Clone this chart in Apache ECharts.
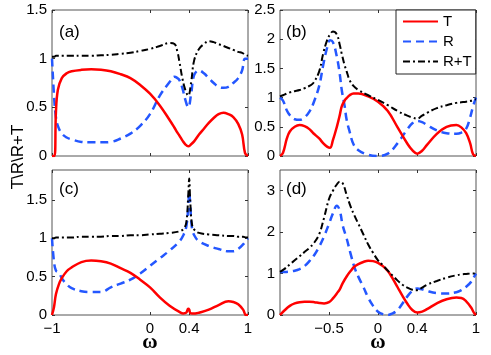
<!DOCTYPE html>
<html>
<head>
<meta charset="utf-8">
<script src="https://cdn.jsdelivr.net/npm/echarts@6/dist/echarts.min.js"></script>
<style>
  html, body { margin: 0; padding: 0; background: #fff; }
  #chart { width: 491px; height: 355px; }
</style>
</head>
<body>
<div id="chart"></div>
<script>
// panel (a)
const xA = [-1, -0.975, -0.96, -0.94, -0.9, -0.85, -0.8, -0.7, -0.6, -0.5, -0.4, -0.3, -0.2, -0.1, 0, 0.1, 0.2, 0.25, 0.28, 0.3, 0.33, 0.36, 0.39, 0.42, 0.45, 0.5, 0.55, 0.6, 0.65, 0.7, 0.75, 0.8, 0.85, 0.9, 0.94, 0.97, 1];
const tA = [0, 0, 0.45, 0.68, 0.8, 0.85, 0.87, 0.885, 0.89, 0.885, 0.87, 0.84, 0.8, 0.73, 0.64, 0.52, 0.37, 0.29, 0.24, 0.21, 0.16, 0.12, 0.1, 0.12, 0.15, 0.22, 0.28, 0.34, 0.39, 0.43, 0.445, 0.43, 0.4, 0.33, 0.22, 0.03, 0];
const rA = [1.0, 0.55, 0.4, 0.31, 0.23, 0.19, 0.17, 0.145, 0.14, 0.14, 0.145, 0.18, 0.23, 0.31, 0.43, 0.62, 0.76, 0.815, 0.8, 0.78, 0.7, 0.58, 0.5, 0.64, 0.83, 0.88, 0.85, 0.8, 0.75, 0.71, 0.7, 0.71, 0.75, 0.8, 0.88, 1.0, 1.0];
const sA = [1.02, 1.02, 1.03, 1.03, 1.03, 1.03, 1.03, 1.03, 1.03, 1.035, 1.04, 1.05, 1.06, 1.08, 1.1, 1.13, 1.16, 1.15, 1.07, 0.97, 0.8, 0.68, 0.62, 0.76, 0.98, 1.1, 1.15, 1.18, 1.17, 1.15, 1.13, 1.11, 1.09, 1.07, 1.06, 1.04, 1.03];

// panel (b)
const xB = [-1, -0.97, -0.93, -0.9, -0.85, -0.8, -0.75, -0.7, -0.66, -0.6, -0.56, -0.52, -0.49, -0.46, -0.42, -0.39, -0.37, -0.34, -0.32, -0.29, -0.25, -0.2, -0.1, 0, 0.1, 0.2, 0.3, 0.35, 0.4, 0.45, 0.5, 0.6, 0.7, 0.8, 0.85, 0.9, 0.94, 0.97, 1];
const tB = [0, 0.05, 0.3, 0.42, 0.5, 0.53, 0.51, 0.46, 0.39, 0.3, 0.22, 0.16, 0.14, 0.27, 0.5, 0.7, 0.85, 0.95, 0.99, 1.04, 1.07, 1.07, 1.02, 0.93, 0.77, 0.49, 0.21, 0.1, 0.04, 0.09, 0.19, 0.38, 0.5, 0.53, 0.49, 0.39, 0.22, 0.03, 0];
const rB = [1.0, 0.95, 0.78, 0.7, 0.63, 0.62, 0.66, 0.76, 0.9, 1.2, 1.55, 1.85, 1.98, 1.95, 1.7, 1.4, 1.13, 0.85, 0.62, 0.42, 0.2, 0.1, 0.02, 0.0, 0.04, 0.22, 0.46, 0.56, 0.6, 0.58, 0.53, 0.44, 0.39, 0.38, 0.4, 0.47, 0.66, 0.85, 1.0];
const sB = [1.02, 1.04, 1.07, 1.09, 1.11, 1.13, 1.16, 1.2, 1.25, 1.45, 1.75, 1.98, 2.08, 2.13, 2.08, 1.9, 1.75, 1.55, 1.45, 1.3, 1.2, 1.13, 1.04, 0.96, 0.87, 0.77, 0.69, 0.66, 0.64, 0.69, 0.74, 0.82, 0.87, 0.91, 0.92, 0.93, 0.94, 0.96, 0.97];

// panel (c)
const xC = [-1, -0.98, -0.96, -0.93, -0.9, -0.85, -0.8, -0.7, -0.6, -0.5, -0.4, -0.3, -0.2, -0.1, 0, 0.1, 0.2, 0.3, 0.34, 0.37, 0.39, 0.4, 0.41, 0.43, 0.46, 0.5, 0.6, 0.7, 0.8, 0.85, 0.9, 0.95, 0.98, 1];
const tC = [0, 0.1, 0.27, 0.4, 0.48, 0.57, 0.62, 0.69, 0.71, 0.7, 0.67, 0.61, 0.55, 0.46, 0.36, 0.23, 0.12, 0.04, 0.02, 0.03, 0.08, 0.07, 0.03, 0.02, 0.02, 0.03, 0.07, 0.13, 0.18, 0.17, 0.14, 0.07, 0.0, 0];
const rC = [1.0, 0.7, 0.58, 0.55, 0.48, 0.4, 0.35, 0.31, 0.3, 0.3, 0.36, 0.41, 0.46, 0.54, 0.64, 0.74, 0.84, 0.96, 1.04, 1.15, 1.4, 1.6, 1.45, 1.12, 1.02, 0.96, 0.9, 0.86, 0.83, 0.83, 0.86, 0.92, 0.97, 1.0];
const sC = [1.0, 1.0, 1.01, 1.01, 1.01, 1.01, 1.01, 1.02, 1.02, 1.02, 1.03, 1.03, 1.04, 1.04, 1.05, 1.06, 1.07, 1.09, 1.12, 1.2, 1.55, 1.78, 1.5, 1.17, 1.1, 1.07, 1.05, 1.04, 1.03, 1.03, 1.02, 1.02, 1.01, 1.01];

// panel (d)
const xD = [-1, -0.95, -0.9, -0.85, -0.8, -0.75, -0.7, -0.65, -0.6, -0.55, -0.5, -0.46, -0.42, -0.39, -0.36, -0.32, -0.28, -0.24, -0.2, -0.15, -0.1, -0.05, 0, 0.05, 0.1, 0.15, 0.2, 0.25, 0.3, 0.35, 0.4, 0.45, 0.5, 0.6, 0.7, 0.8, 0.85, 0.9, 0.95, 0.98, 1];
const tD = [0, 0.12, 0.22, 0.28, 0.31, 0.32, 0.32, 0.31, 0.29, 0.28, 0.31, 0.4, 0.52, 0.62, 0.77, 0.93, 1.06, 1.17, 1.23, 1.28, 1.31, 1.3, 1.26, 1.18, 1.06, 0.88, 0.67, 0.46, 0.27, 0.12, 0.06, 0.08, 0.14, 0.28, 0.38, 0.42, 0.41, 0.33, 0.18, 0.05, 0];
const rD = [1.04, 1.04, 1.05, 1.07, 1.11, 1.18, 1.3, 1.45, 1.65, 1.9, 2.2, 2.45, 2.64, 2.52, 2.16, 1.85, 1.48, 1.15, 0.92, 0.68, 0.42, 0.22, 0.08, 0.02, 0.0, 0.04, 0.12, 0.28, 0.45, 0.58, 0.64, 0.62, 0.58, 0.53, 0.52, 0.55, 0.6, 0.68, 0.8, 0.92, 1.0];
const sD = [1.04, 1.12, 1.22, 1.32, 1.42, 1.52, 1.62, 1.75, 1.95, 2.35, 2.8, 3.0, 3.15, 3.22, 3.18, 2.9, 2.62, 2.4, 2.2, 1.95, 1.7, 1.5, 1.32, 1.2, 1.07, 0.95, 0.83, 0.73, 0.66, 0.61, 0.6, 0.66, 0.73, 0.82, 0.9, 0.96, 0.98, 0.99, 1.0, 1.0, 1.0];

// ticks
const xTicksAC = [-1, 0, 0.4, 1];
const xTicksBD = [-0.5, 0, 0.4, 1];
const yTicksA = [0, 0.5, 1, 1.5];
const yTicksB = [0, 0.5, 1, 1.5, 2, 2.5];
const yTicksC = [0, 0.5, 1, 1.5];
const yTicksD = [0, 1, 2, 3];
const yMax = [1.5, 2.5, 1.89, 3.5];

const grids = [
  { left: 52, top: 10, width: 196, height: 146 },
  { left: 280, top: 10, width: 196, height: 146 },
  { left: 52, top: 170, width: 196, height: 145 },
  { left: 280, top: 170, width: 196, height: 145 }
];

const fmt = v => String(v).replace('-', '\u2212');
const FONT = 'Liberation Sans';

function xAxes(i, ticks, showLabels) {
  const base = {
    gridIndex: i, type: 'value', min: -1, max: 1,
    axisLine: { show: false, onZero: false }, splitLine: { show: false },
    axisTick: { inside: true, length: 3, customValues: ticks, lineStyle: { color: '#333' } }
  };
  return [
    Object.assign({}, base, {
      position: 'bottom',
      axisLabel: { show: showLabels, customValues: ticks, formatter: fmt, fontSize: 15, color: '#000',
        fontFamily: FONT, margin: 6, showMinLabel: true, showMaxLabel: true }
    }),
    Object.assign({}, base, { position: 'top', axisLabel: { show: false } })
  ];
}

function yAxes(i, ticks, max) {
  const base = {
    gridIndex: i, type: 'value', min: 0, max: max,
    axisLine: { show: false, onZero: false }, splitLine: { show: false },
    axisTick: { inside: true, length: 3, customValues: ticks, lineStyle: { color: '#333' } }
  };
  return [
    Object.assign({}, base, {
      position: 'left',
      axisLabel: { customValues: ticks, formatter: fmt, fontSize: 15, color: '#000',
        fontFamily: FONT, margin: 5, showMinLabel: true, showMaxLabel: true }
    }),
    Object.assign({}, base, { position: 'right', axisLabel: { show: false } })
  ];
}

const panels = [[xA, tA, rA, sA], [xB, tB, rB, sB], [xC, tC, rC, sC], [xD, tD, rD, sD]];
const styles = {
  T: { color: '#ff0000', width: 2.5, type: 'solid' },
  R: { color: '#2457ff', width: 2.5, type: [8, 5] },
  'R+T': { color: '#000000', width: 2, type: [7, 3, 2, 3] }
};

const series = [];
panels.forEach((p, i) => {
  const xs = p[0];
  [['T', p[1]], ['R', p[2]], ['R+T', p[3]]].forEach(([name, ys]) => {
    series.push({
      name: name, type: 'line',
      xAxisIndex: i * 2, yAxisIndex: i * 2,
      data: xs.map((x, k) => [x, ys[k]]),
      symbol: 'none', smooth: 0.4, clip: true,
      itemStyle: { color: styles[name].color },
      lineStyle: styles[name],
      z: name === 'T' ? 4 : (name === 'R' ? 3 : 5)
    });
  });
});

const chart = echarts.init(document.getElementById('chart'), null, { renderer: 'canvas' });
chart.setOption({
  animation: false,
  grid: grids.map(g => Object.assign({ show: true, borderColor: '#555', borderWidth: 1, backgroundColor: 'transparent' }, g)),
  xAxis: [].concat(xAxes(0, xTicksAC, false), xAxes(1, xTicksBD, false), xAxes(2, xTicksAC, true), xAxes(3, xTicksBD, true)),
  yAxis: [].concat(yAxes(0, yTicksA, yMax[0]), yAxes(1, yTicksB, yMax[1]), yAxes(2, yTicksC, yMax[2]), yAxes(3, yTicksD, yMax[3])),
  legend: {
    data: ['T', 'R', 'R+T'],
    orient: 'vertical', left: 396, top: 10,
    backgroundColor: '#fff', borderColor: '#222', borderWidth: 1,
    padding: [4, 4, 5, 6], itemGap: 5, itemWidth: 35, itemHeight: 13,
    itemStyle: { opacity: 0 },
    textStyle: { fontSize: 15, fontFamily: FONT, color: '#000', padding: [0, 0, 0, 0] }
  },
  graphic: [
    { type: 'text', x: 18, y: 157, rotation: Math.PI / 2,
      style: { text: 'T\\R\\R+T', font: '17px Liberation Sans', fill: '#000', align: 'center', verticalAlign: 'middle' } },
    { type: 'text', x: 150, y: 343,
      style: { text: '\u03c9', font: 'bold 21px Liberation Serif', fill: '#000', align: 'center', verticalAlign: 'middle' } },
    { type: 'text', x: 378, y: 343,
      style: { text: '\u03c9', font: 'bold 21px Liberation Serif', fill: '#000', align: 'center', verticalAlign: 'middle' } },
    { type: 'text', x: 59, y: 32, style: { text: '(a)', font: '17px Liberation Sans', fill: '#000', verticalAlign: 'middle' } },
    { type: 'text', x: 286, y: 32, style: { text: '(b)', font: '17px Liberation Sans', fill: '#000', verticalAlign: 'middle' } },
    { type: 'text', x: 59, y: 189, style: { text: '(c)', font: '17px Liberation Sans', fill: '#000', verticalAlign: 'middle' } },
    { type: 'text', x: 286, y: 189, style: { text: '(d)', font: '17px Liberation Sans', fill: '#000', verticalAlign: 'middle' } }
  ],
  series: series
});
</script>
</body>
</html>
